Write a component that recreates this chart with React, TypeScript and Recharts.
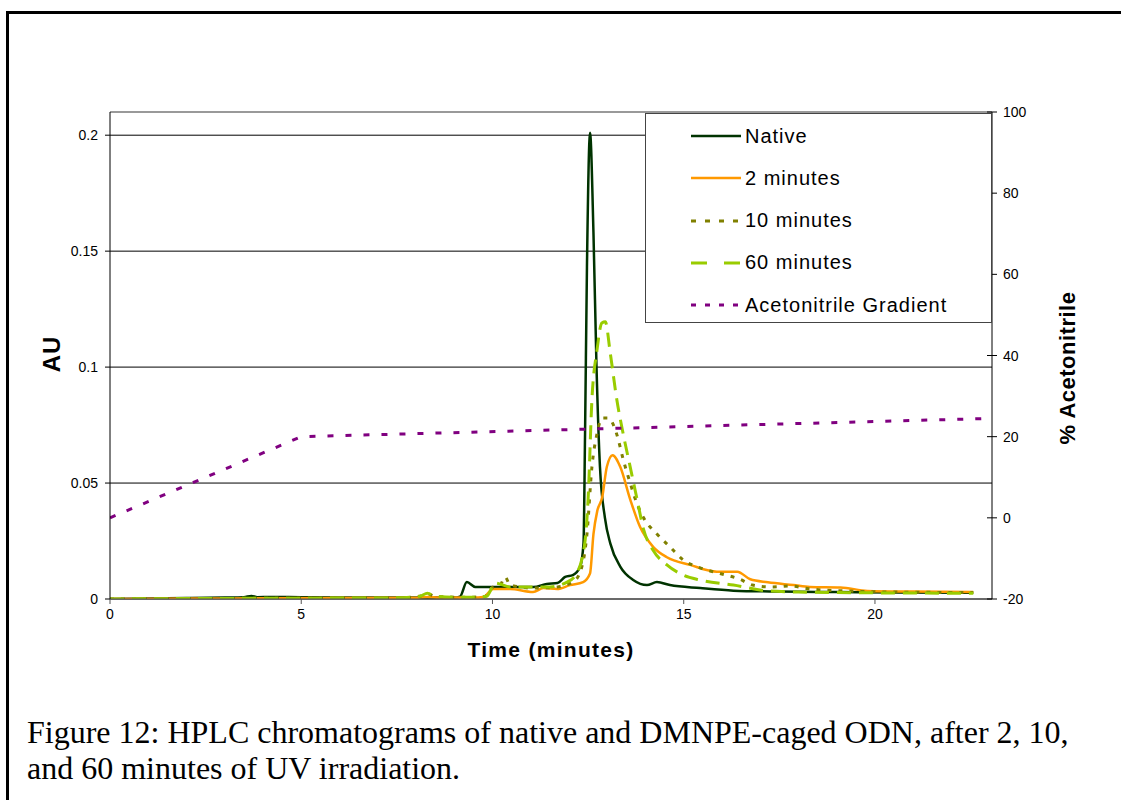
import { LineChart, Line, XAxis, YAxis, CartesianGrid, ReferenceLine } from "recharts";

// Native
const nativeTime = [0, 1, 2, 3, 3.5, 3.7, 3.85, 4.2, 5, 6, 7, 8, 9, 9.15, 9.33, 9.55, 10.2, 11.07, 11.42, 11.7, 11.9, 12.1, 12.29, 12.38, 12.42, 12.47, 12.55, 12.64, 12.72, 12.81, 12.94, 13.08, 13.34, 13.68, 14.04, 14.3, 14.64, 15.43, 16.3, 17.5, 19, 20.5, 22.57];
const nativeAU = [0, 0.0002, 0.0004, 0.0006, 0.0008, 0.0013, 0.0008, 0.0009, 0.0008, 0.0007, 0.0007, 0.0006, 0.0006, 0.001, 0.0073, 0.0052, 0.0052, 0.0052, 0.0065, 0.0069, 0.0095, 0.0103, 0.0138, 0.024, 0.071, 0.143, 0.201, 0.158, 0.1, 0.057, 0.035, 0.024, 0.014, 0.0082, 0.006, 0.0073, 0.006, 0.0047, 0.0036, 0.0032, 0.003, 0.0028, 0.0027];

// 2 minutes
const twoTime = [0, 2, 4, 6, 8, 8.3, 8.6, 9, 9.5, 9.76, 10.02, 10.46, 11.06, 11.33, 11.69, 12.03, 12.37, 12.55, 12.64, 12.74, 12.87, 12.99, 13.14, 13.34, 13.6, 13.86, 14.2, 14.56, 15.17, 15.87, 16.4, 16.74, 17.2, 17.87, 18.3, 19.1, 19.8, 21, 22.57];
const twoAU = [0, 0.0002, 0.0003, 0.0004, 0.0005, 0.0009, 0.0006, 0.0006, 0.0006, 0.0009, 0.0043, 0.0043, 0.003, 0.0047, 0.0043, 0.006, 0.0073, 0.011, 0.028, 0.038, 0.044, 0.057, 0.062, 0.057, 0.043, 0.031, 0.0225, 0.018, 0.0147, 0.0118, 0.0118, 0.0085, 0.0072, 0.006, 0.0052, 0.005, 0.0035, 0.0032, 0.003];

// 10 minutes
const tenTime = [0, 2, 4, 6, 7.5, 8.1, 8.3, 8.5, 9, 9.5, 9.8, 10.0, 10.2, 10.33, 10.46, 11.07, 11.6, 12.1, 12.3, 12.47, 12.6, 12.73, 12.87, 13.03, 13.25, 13.42, 13.6, 13.78, 13.95, 14.3, 14.64, 14.99, 15.43, 15.95, 16.47, 16.8, 17.3, 17.8, 18.3, 19.2, 20.5, 22.57];
const tenAU = [0, 0.0002, 0.0003, 0.0004, 0.0005, 0.0012, 0.0022, 0.0012, 0.0008, 0.0008, 0.001, 0.005, 0.006, 0.0095, 0.006, 0.0047, 0.005, 0.0073, 0.012, 0.028, 0.057, 0.071, 0.078, 0.078, 0.071, 0.06, 0.05, 0.041, 0.035, 0.028, 0.0225, 0.0168, 0.0134, 0.011, 0.0085, 0.006, 0.0052, 0.0056, 0.0043, 0.0035, 0.003, 0.0028];

// 60 minutes
const sixtyTime = [0, 2, 4, 6, 7.5, 8.1, 8.3, 8.5, 9, 9.5, 9.85, 10.07, 10.46, 10.8, 11.5, 11.95, 12.2, 12.42, 12.5, 12.6, 12.73, 12.86, 12.95, 13.08, 13.25, 13.42, 13.6, 13.78, 13.95, 14.2, 14.56, 14.99, 15.43, 16.3, 17.2, 18, 19, 20.5, 22.57];
const sixtyAU = [0, 0.0002, 0.0003, 0.0004, 0.0005, 0.0012, 0.0025, 0.0012, 0.0008, 0.0008, 0.0012, 0.0069, 0.0052, 0.0052, 0.0052, 0.0073, 0.011, 0.025, 0.043, 0.086, 0.107, 0.119, 0.1195, 0.106, 0.086, 0.071, 0.057, 0.043, 0.03, 0.021, 0.0147, 0.0103, 0.0082, 0.006, 0.0035, 0.003, 0.0028, 0.0026, 0.0025];

// Acetonitrile gradient (%)
const gradTime = [0, 5, 23.06];
const gradPct = [0, 20, 24.5];

const timeTicks = [0, 5, 10, 15, 20];
const auTicks = [0, 0.05, 0.1, 0.15, 0.2];
const pctTicks = [-20, 0, 20, 40, 60, 80, 100];

const seriesNames = ["Native", "2 minutes", "10 minutes", "60 minutes", "Acetonitrile Gradient"];

const toPoints = (t: number[], v: number[]) => t.map((x, i) => ({ t: x, v: v[i] }));

const SERIES = [
  { name: seriesNames[0], data: toPoints(nativeTime, nativeAU), color: "#003300", dash: undefined, width: 2.5, axis: "au", curve: "monotone", legendDash: undefined },
  { name: seriesNames[1], data: toPoints(twoTime, twoAU), color: "#FF9900", dash: undefined, width: 2.5, axis: "au", curve: "monotone", legendDash: undefined },
  { name: seriesNames[2], data: toPoints(tenTime, tenAU), color: "#808000", dash: "4 7", width: 3, axis: "au", curve: "monotone", legendDash: "5 9" },
  { name: seriesNames[3], data: toPoints(sixtyTime, sixtyAU), color: "#99CC00", dash: "14 8", width: 3, axis: "au", curve: "monotone", legendDash: "16 17" },
  { name: seriesNames[4], data: toPoints(gradTime, gradPct), color: "#800080", dash: "6 12", width: 3, axis: "pct", curve: "linear", legendDash: "5 9" },
];

const FONT = "'Liberation Sans', Arial, sans-serif";

function RightTick(props: any) {
  const { x, y, payload } = props;
  // x is the text anchor; axis line sits 11px to the left
  return (
    <g>
      <line x1={x - 16} x2={x - 6} y1={y} y2={y} stroke="#000" strokeWidth={1} />
      <text x={x} y={y} dy={5} fontSize={14} fontFamily={FONT} fill="#000">{payload.value}</text>
    </g>
  );
}

export default function App() {
  return (
    <div style={{ position: "absolute", left: 0, top: 0, width: 1121, height: 800, background: "#fff", overflow: "hidden" }}>
      {/* figure frame */}
      <div style={{ position: "absolute", left: 6, top: 11, width: 1200, height: 900, borderLeft: "3px solid #000", borderTop: "3px solid #000" }} />

      <div style={{ position: "absolute", left: 0, top: 0 }}>
        <LineChart width={1121} height={640} margin={{ top: 112, right: 69, bottom: 11, left: 50 }}>
          <CartesianGrid vertical={false} stroke="#000" strokeWidth={1} yAxisId="au" />
          <XAxis
            dataKey="t"
            type="number"
            domain={[0, 23.06]}
            ticks={timeTicks}
            allowDataOverflow
            height={30}
            tickSize={5}
            tickMargin={5}
            stroke="#555"
            tick={{ fill: "#000", fontSize: 14, fontFamily: FONT }}
          />
          <YAxis
            yAxisId="au"
            orientation="left"
            width={60}
            domain={[0, 0.21]}
            ticks={auTicks}
            allowDataOverflow
            tickSize={5}
            tickMargin={7}
            stroke="#000"
            tick={{ fill: "#000", fontSize: 14, fontFamily: FONT }}
          />
          <YAxis
            yAxisId="pct"
            orientation="right"
            width={60}
            domain={[-20, 100]}
            ticks={pctTicks}
            allowDataOverflow
            tickSize={5}
            tickMargin={6}
            tickLine={false}
            stroke="#000"
            tick={<RightTick />}
          />
          <ReferenceLine yAxisId="au" y={0.21} stroke="#999" strokeWidth={2} />
          {SERIES.map((s) => (
            <Line
              key={s.name}
              yAxisId={s.axis}
              data={s.data}
              dataKey="v"
              name={s.name}
              type={s.curve as any}
              stroke={s.color}
              strokeWidth={s.width}
              strokeDasharray={s.dash}
              dot={false}
              activeDot={false}
              isAnimationActive={false}
            />
          ))}
        </LineChart>
      </div>

      {/* legend */}
      <div style={{ position: "absolute", left: 645, top: 113, width: 345, height: 208, border: "1px solid #444", background: "#fff", fontFamily: FONT, fontSize: 20, color: "#000" }}>
        {SERIES.map((s, i) => (
          <div key={s.name} style={{ position: "absolute", left: 45, top: 9 + i * 42.3, height: 26, display: "flex", alignItems: "center", whiteSpace: "nowrap" }}>
            <svg width={51} height={10} style={{ marginRight: 3 }}>
              <line x1={0} x2={50} y1={5} y2={5} stroke={s.color} strokeWidth={s.width} strokeDasharray={s.legendDash} />
            </svg>
            <span style={{ letterSpacing: 1 }}>{s.name}</span>
          </div>
        ))}
      </div>

      {/* axis titles */}
      <div style={{ position: "absolute", left: 52, top: 354, transform: "translate(-50%, -50%) rotate(-90deg)", fontFamily: FONT, fontWeight: "bold", fontSize: 24, letterSpacing: 1, whiteSpace: "nowrap" }}>AU</div>
      <div style={{ position: "absolute", left: 1068, top: 368, transform: "translate(-50%, -50%) rotate(-90deg)", fontFamily: FONT, fontWeight: "bold", fontSize: 22, letterSpacing: 0.5, whiteSpace: "nowrap" }}>% Acetonitrile</div>
      <div style={{ position: "absolute", left: 551, top: 650, transform: "translate(-50%, -50%)", fontFamily: FONT, fontWeight: "bold", fontSize: 21, whiteSpace: "nowrap", letterSpacing: 1.3 }}>Time (minutes)</div>

      {/* caption */}
      <div style={{ position: "absolute", left: 27, top: 714, fontFamily: "'Liberation Serif', 'Times New Roman', serif", fontSize: 32, lineHeight: "36px", color: "#000", whiteSpace: "nowrap" }}>
        <div>Figure 12: HPLC chromatograms of native and DMNPE-caged ODN, after 2, 10,</div>
        <div>and 60 minutes of UV irradiation.</div>
      </div>
    </div>
  );
}
